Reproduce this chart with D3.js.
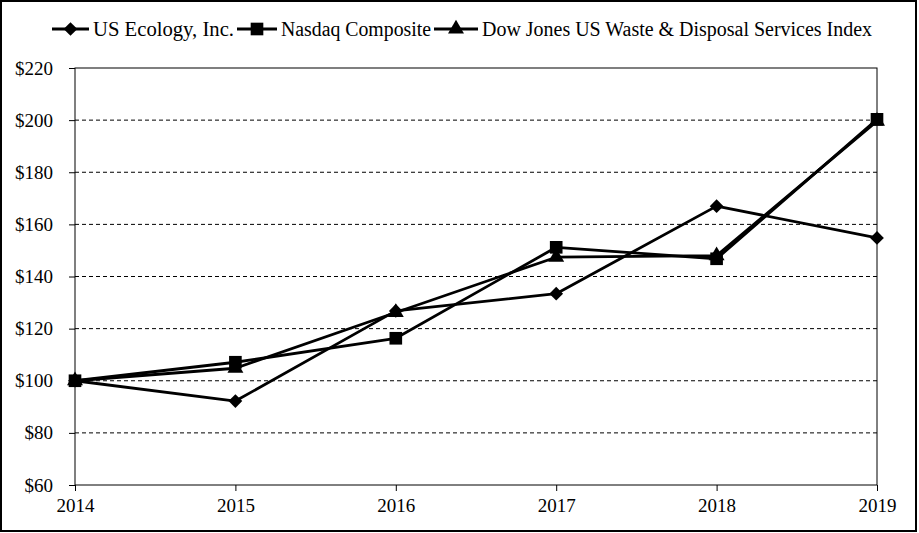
<!DOCTYPE html>
<html>
<head>
<meta charset="utf-8">
<script src="https://cdn.jsdelivr.net/npm/d3@7"></script>
<style>
html,body{margin:0;padding:0;background:#fff;}
svg{display:block;}
text{font-family:"Liberation Serif","Times New Roman",serif;fill:#000;}
</style>
</head>
<body>
<script>
const years = [2014, 2015, 2016, 2017, 2018, 2019];
const usEcology = [100, 92.2, 126.8, 133.4, 167.0, 154.8];
const nasdaq = [100, 107.1, 116.3, 151.2, 146.8, 200.3];
const dowJonesWaste = [100, 104.8, 126.2, 147.4, 148.0, 199.6];
const seriesNames = ["US Ecology, Inc.", "Nasdaq Composite", "Dow Jones US Waste & Disposal Services Index"];
const yTicks = [60, 80, 100, 120, 140, 160, 180, 200, 220];

(function () {
const W = 919, H = 533;
const svg = d3.select("body").append("svg").attr("width", W).attr("height", H);

// outer border
svg.append("rect").attr("x", 1).attr("y", 1).attr("width", W - 4).attr("height", H - 3)
  .attr("fill", "#fff").attr("stroke", "#000").attr("stroke-width", 2);

const pLeft = 75, pRight = 877, pTop = 68, pBottom = 485;
const x = d3.scalePoint().domain(years).range([pLeft, pRight]);
const y = d3.scaleLinear().domain([60, 220]).range([pBottom, pTop]);

// gridlines
svg.append("g").selectAll("line").data(yTicks.filter(v => v > 60 && v < 220)).join("line")
  .attr("x1", pLeft).attr("x2", pRight).attr("y1", d => y(d)).attr("y2", d => y(d))
  .attr("stroke", "#000").attr("stroke-width", 1).attr("stroke-dasharray", "4,3");

// plot border
svg.append("rect").attr("x", pLeft).attr("y", pTop).attr("width", pRight - pLeft).attr("height", pBottom - pTop)
  .attr("fill", "none").attr("stroke", "#000").attr("stroke-width", 1);

// axes
const yAxis = d3.axisLeft(y).tickValues(yTicks).tickSize(6).tickPadding(16).tickFormat(d => "$" + d);
const gy = svg.append("g").attr("transform", `translate(${pLeft},0)`).call(yAxis);
gy.select(".domain").remove();
gy.selectAll("text").attr("font-size", 19).attr("font-family", "Liberation Serif");

const xAxis = d3.axisBottom(x).tickSize(6).tickPadding(8).tickFormat(d3.format("d"));
const gx = svg.append("g").attr("transform", `translate(0,${pBottom})`).call(xAxis);
gx.select(".domain").remove();
gx.selectAll("text").attr("font-size", 19).attr("font-family", "Liberation Serif");

const series = [
  {name: seriesNames[0], values: usEcology, sym: d3.symbolDiamond2, size: 120},
  {name: seriesNames[1], values: nasdaq, sym: d3.symbolSquare, size: 160},
  {name: seriesNames[2], values: dowJonesWaste, sym: d3.symbolTriangle, size: 110}
];

const line = d3.line().x((d, i) => x(years[i])).y(d => y(d));
const drawOrder = [2, 1, 0];
drawOrder.forEach(k => {
  const s = series[k];
  svg.append("path").datum(s.values).attr("d", line)
    .attr("fill", "none").attr("stroke", "#000").attr("stroke-width", 2.8).attr("stroke-linejoin", "round");
});
drawOrder.forEach(k => {
  const s = series[k];
  svg.append("g").selectAll("path").data(s.values).join("path")
    .attr("transform", (d, i) => `translate(${x(years[i])},${y(d)})`)
    .attr("d", d3.symbol().type(s.sym).size(s.size)).attr("fill", "#000");
});

// legend
const legendItems = [
  {lx: 52, tx: 93, w: 141},
  {lx: 237, tx: 281, w: 150},
  {lx: 434, tx: 482, w: 390}
];
const ly = 29;
series.forEach((s, k) => {
  const it = legendItems[k];
  const g = svg.append("g");
  g.append("line").attr("x1", it.lx).attr("x2", it.tx - 4).attr("y1", ly).attr("y2", ly)
    .attr("stroke", "#000").attr("stroke-width", 2.8);
  g.append("path").attr("transform", `translate(${(it.lx + it.tx - 4) / 2},${ly})`)
    .attr("d", d3.symbol().type(s.sym).size(s.size)).attr("fill", "#000");
  g.append("text").attr("x", it.tx).attr("y", ly).attr("dy", "0.35em")
    .attr("font-size", 20).attr("textLength", it.w).attr("lengthAdjust", "spacingAndGlyphs").text(s.name);
});
})();
</script>
</body>
</html>
